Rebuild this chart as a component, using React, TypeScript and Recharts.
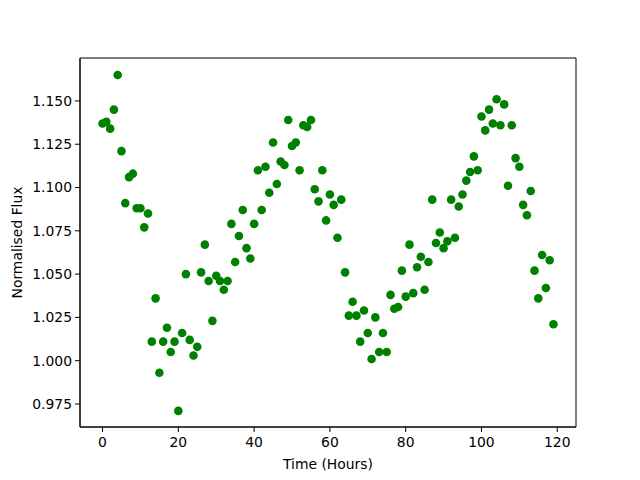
import {
  ReferenceArea,
  Scatter,
  ScatterChart,
  XAxis,
  YAxis,
} from "recharts";

// hours since start of observation
const hours: number[] = Array.from({ length: 120 }, (_, i) => i);

// normalised flux, one value per hour
const flux: number[] = [
  1.137, 1.138, 1.134, 1.145, 1.165, 1.121, 1.091, 1.106, 1.108, 1.088,
  1.088, 1.077, 1.085, 1.011, 1.036, 0.993, 1.011, 1.019, 1.005, 1.011,
  0.971, 1.016, 1.050, 1.012, 1.003, 1.008, 1.051, 1.067, 1.046, 1.023,
  1.049, 1.046, 1.041, 1.046, 1.079, 1.057, 1.072, 1.087, 1.065, 1.059,
  1.079, 1.110, 1.087, 1.112, 1.097, 1.126, 1.102, 1.115, 1.113, 1.139,
  1.124, 1.126, 1.110, 1.136, 1.135, 1.139, 1.099, 1.092, 1.110, 1.081,
  1.096, 1.090, 1.071, 1.093, 1.051, 1.026, 1.034, 1.026, 1.011, 1.029,
  1.016, 1.001, 1.025, 1.005, 1.016, 1.005, 1.038, 1.030, 1.031, 1.052,
  1.037, 1.067, 1.039, 1.054, 1.060, 1.041, 1.057, 1.093, 1.068, 1.074,
  1.065, 1.069, 1.093, 1.071, 1.089, 1.096, 1.104, 1.109, 1.118, 1.110,
  1.141, 1.133, 1.145, 1.137, 1.151, 1.136, 1.148, 1.101, 1.136, 1.117,
  1.112, 1.090, 1.084, 1.098, 1.052, 1.036, 1.061, 1.042, 1.058, 1.021,
];

const xTicks = [0, 20, 40, 60, 80, 100, 120];
const yTicks = [0.975, 1.0, 1.025, 1.05, 1.075, 1.1, 1.125, 1.15];

const X_DOMAIN: [number, number] = [-5.95, 124.95];
const Y_DOMAIN: [number, number] = [0.9617, 1.1748];

const data = hours.map((t, i) => ({ t, flux: flux[i] }));

const FONT = "'DejaVu Sans', sans-serif";
const tickStyle = { fill: "#000", fontSize: 13.9, fontFamily: FONT };

function Dot(props: { cx?: number; cy?: number }) {
  const { cx, cy } = props;
  if (cx == null || cy == null) return null;
  return <circle cx={cx} cy={cy} r={4.3} fill="#008000" />;
}

export default function App() {
  return (
    <div style={{ position: "absolute", left: 0, top: 0, width: 640, height: 480, background: "#fff" }}>
      <ScatterChart
        width={640}
        height={480}
        margin={{ top: 58, right: 64, bottom: 0, left: 0 }}
      >
        <ReferenceArea
          x1={X_DOMAIN[0]}
          x2={X_DOMAIN[1]}
          y1={Y_DOMAIN[0]}
          y2={Y_DOMAIN[1]}
          fill="none"
          stroke="#000"
          strokeWidth={1}
          fillOpacity={0}
          ifOverflow="visible"
        />
        <XAxis
          type="number"
          dataKey="t"
          domain={X_DOMAIN}
          ticks={xTicks}
          allowDataOverflow
          height={53}
          tickSize={5}
          tickMargin={5}
          stroke="#000"
          tick={tickStyle}
          label={{
            value: "Time (Hours)",
            position: "insideBottom",
            offset: 11,
            style: { fill: "#000", fontSize: 13.9, fontFamily: FONT },
          }}
        />
        <YAxis
          type="number"
          dataKey="flux"
          domain={Y_DOMAIN}
          ticks={yTicks}
          allowDataOverflow
          width={80}
          tickSize={5}
          tickMargin={3}
          stroke="#000"
          tick={tickStyle}
          tickFormatter={(v: number) => v.toFixed(3)}
          label={{
            value: "Normalised Flux",
            angle: -90,
            position: "insideLeft",
            offset: 17,
            style: { fill: "#000", fontSize: 13.9, fontFamily: FONT, textAnchor: "middle" },
          }}
        />
        <Scatter data={data} shape={<Dot />} isAnimationActive={false} />
      </ScatterChart>
    </div>
  );
}
